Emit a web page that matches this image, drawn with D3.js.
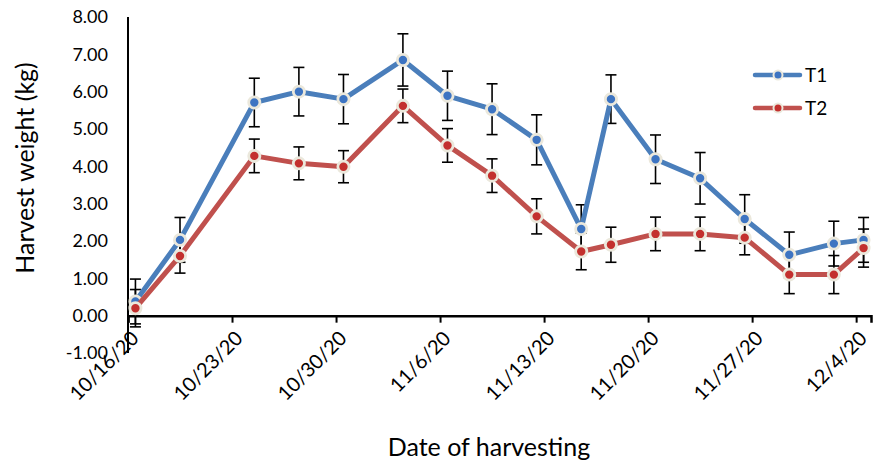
<!DOCTYPE html>
<html>
<head>
<meta charset="utf-8">
<script src="https://cdn.jsdelivr.net/npm/d3@7"></script>
<style>
  body { margin: 0; background: #fff; }
  text { font-family: Lato, "Open Sans", sans-serif; fill: #000; }
</style>
</head>
<body>
<svg id="chart" width="880" height="469"></svg>
<script>
// harvest dates (m/d/yyyy)
const dates = ['10/16/2020', '10/19/2020', '10/24/2020', '10/27/2020', '10/30/2020', '11/3/2020',
  '11/6/2020', '11/9/2020', '11/12/2020', '11/15/2020', '11/17/2020', '11/20/2020',
  '11/23/2020', '11/26/2020', '11/29/2020', '12/2/2020', '12/4/2020'];

// mean harvest weight (kg)
const t1 = [0.38, 2.03, 5.71, 6.0, 5.8, 6.85, 5.89, 5.53, 4.71, 2.32, 5.8, 4.19, 3.68, 2.59, 1.63, 1.93, 2.03];
const t2 = [0.2, 1.6, 4.28, 4.08, 3.99, 5.62, 4.56, 3.75, 2.66, 1.72, 1.9, 2.19, 2.19, 2.09, 1.1, 1.1, 1.81];

// error bar half-lengths
const t1Err = [0.6, 0.6, 0.65, 0.65, 0.66, 0.7, 0.66, 0.68, 0.67, 0.65, 0.65, 0.65, 0.69, 0.65, 0.61, 0.6, 0.6];
const t2Err = [0.5, 0.46, 0.45, 0.44, 0.43, 0.45, 0.45, 0.45, 0.47, 0.49, 0.47, 0.45, 0.45, 0.46, 0.51, 0.51, 0.51];

const xTicks = ['10/16/2020', '10/23/2020', '10/30/2020', '11/6/2020', '11/13/2020', '11/20/2020', '11/27/2020', '12/4/2020'];
const yTicks = [-1, 0, 1, 2, 3, 4, 5, 6, 7, 8];

const parse = d3.timeParse('%m/%d/%Y');
const svg = d3.select('#chart');

const x = d3.scaleTime()
  .domain([parse('10/16/2020'), parse('12/5/2020')])
  .range([128, 871]);
const y = d3.scaleLinear().domain([-1, 8]).range([353, 17]);

// Excel date axis: points sit in the middle of their day
const xPoint = d => x(d3.timeHour.offset(parse(d), 12));

const series = [
  { name: 'T1', values: t1, err: t1Err, line: '#4a7ebb', dot: '#3d74c2' },
  { name: 'T2', values: t2, err: t2Err, line: '#c0504d', dot: '#c3302e' }
];

// y axis (no ticks)
svg.append('line')
  .attr('x1', x.range()[0]).attr('x2', x.range()[0])
  .attr('y1', y(8)).attr('y2', y(-1))
  .attr('stroke', '#000').attr('stroke-width', 2);

svg.selectAll('.ytick')
  .data(yTicks)
  .enter().append('text')
  .attr('class', 'ytick')
  .attr('x', 108)
  .attr('y', d => y(d))
  .attr('dy', '0.35em')
  .attr('text-anchor', 'end')
  .attr('font-size', '18px')
  .text(d => d.toFixed(2));

// x axis at zero
const xAxis = svg.append('g')
  .attr('transform', `translate(0, ${y(0)})`)
  .call(d3.axisBottom(x).tickValues(xTicks.map(parse)).tickSize(7).tickFormat(''));
xAxis.select('.domain').attr('stroke', '#000').attr('stroke-width', 2.5);
xAxis.selectAll('.tick line').attr('stroke', '#000').attr('stroke-width', 2);

svg.selectAll('.xtick')
  .data(xTicks)
  .enter().append('text')
  .attr('class', 'xtick')
  .attr('text-anchor', 'end')
  .attr('font-size', '20px')
  .attr('transform', d => `translate(${x(parse(d)) + 12}, ${y(0) + 24}) rotate(-45)`)
  .text(d => d.slice(0, -4) + d.slice(-2));

// error bars
series.forEach(s => {
  const g = svg.append('g').attr('class', 'err-' + s.name);
  dates.forEach((d, i) => {
    const cx = xPoint(d);
    const top = y(s.values[i] + s.err[i]);
    const bot = y(s.values[i] - s.err[i]);
    g.append('line').attr('x1', cx).attr('x2', cx).attr('y1', top).attr('y2', bot)
      .attr('stroke', '#000').attr('stroke-width', 1.6);
    [top, bot].forEach(yy => {
      g.append('line').attr('x1', cx - 5.5).attr('x2', cx + 5.5).attr('y1', yy).attr('y2', yy)
        .attr('stroke', '#000').attr('stroke-width', 1.6);
    });
  });
});

// lines and markers
const lineGen = d3.line().x(d => xPoint(d.date)).y(d => y(d.v));
series.forEach(s => {
  const pts = dates.map((d, i) => ({ date: d, v: s.values[i] }));
  svg.append('path')
    .datum(pts)
    .attr('fill', 'none')
    .attr('stroke', s.line)
    .attr('stroke-width', 5)
    .attr('stroke-linejoin', 'round')
    .attr('d', lineGen);
  svg.append('g').selectAll('circle')
    .data(pts)
    .enter().append('circle')
    .attr('cx', d => xPoint(d.date))
    .attr('cy', d => y(d.v))
    .attr('r', 5.6)
    .attr('fill', s.dot)
    .attr('stroke', '#ebe8dc')
    .attr('stroke-width', 2.8);
});

// legend
const legend = svg.append('g').attr('class', 'legend').attr('transform', 'translate(754, 75)');
series.forEach((s, i) => {
  const item = legend.append('g').attr('transform', `translate(0, ${i * 33})`);
  item.append('line').attr('x1', 1).attr('x2', 46).attr('y1', 0).attr('y2', 0)
    .attr('stroke', s.line).attr('stroke-width', 4.5).attr('stroke-linecap', 'round');
  item.append('circle').attr('cx', 24).attr('cy', 0).attr('r', 4.5)
    .attr('fill', s.dot).attr('stroke', '#ebe8dc').attr('stroke-width', 2);
  item.append('text').attr('x', 51).attr('y', 0).attr('dy', '0.35em')
    .attr('font-size', '19px').text(s.name);
});

// axis titles
svg.append('text')
  .attr('transform', 'translate(34, 168) rotate(-90)')
  .attr('text-anchor', 'middle')
  .attr('font-size', '25px')
  .text('Harvest weight (kg)');

svg.append('text')
  .attr('x', 489).attr('y', 456)
  .attr('text-anchor', 'middle')
  .attr('font-size', '25px')
  .text('Date of harvesting');
</script>
</body>
</html>
